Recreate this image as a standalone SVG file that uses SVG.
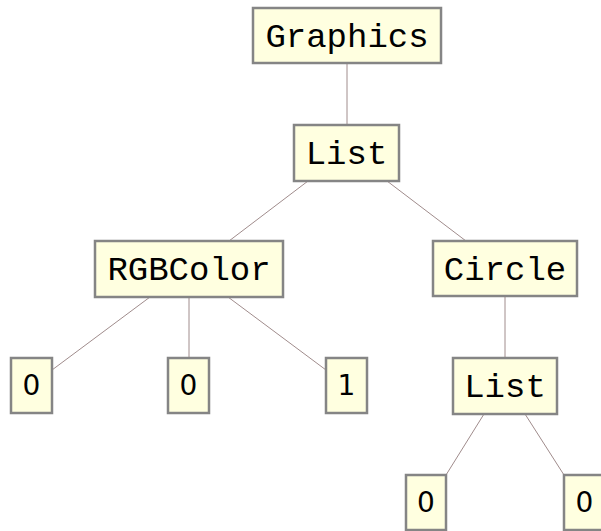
<svg xmlns="http://www.w3.org/2000/svg" width="601" height="531" viewBox="0 0 601 531">
<style>
.box{fill:#ffffe0;stroke:#858585;stroke-width:2.5}
.t{font-family:"Courier New","Liberation Mono",monospace;font-size:34px;fill:#000;text-anchor:middle}
.n{font-family:"DejaVu Sans","Liberation Sans",sans-serif;font-size:28px;fill:#000;text-anchor:middle}
.e{stroke:#a08c8c;stroke-width:1;fill:none}
</style>
<rect width="601" height="531" fill="#ffffff"/>
<g id="connectors">
<line class="e" x1="347" y1="63" x2="347" y2="125"/>
<line class="e" x1="308" y1="181" x2="229" y2="241"/>
<line class="e" x1="387" y1="181" x2="466" y2="241"/>
<line class="e" x1="150" y1="297" x2="52" y2="370"/>
<line class="e" x1="189" y1="297" x2="189" y2="358"/>
<line class="e" x1="228" y1="297" x2="326" y2="370"/>
<line class="e" x1="505" y1="296" x2="505" y2="358"/>
<line class="e" x1="484" y1="414" x2="446" y2="475"/>
<line class="e" x1="525" y1="414" x2="564" y2="475"/>
</g>
<g id="n-graphics"><rect class="box" x="253" y="8" width="188" height="55"/><text class="t" x="347" y="47">Graphics</text></g>
<g id="n-list1"><rect class="box" x="294" y="125" width="105" height="56"/><text class="t" x="346.5" y="164">List</text></g>
<g id="n-rgbcolor"><rect class="box" x="95" y="241" width="188" height="56"/><text class="t" x="189" y="280">RGBColor</text></g>
<g id="n-circle"><rect class="box" x="433" y="241" width="144" height="55"/><text class="t" x="505" y="280">Circle</text></g>
<g id="n-r0"><rect class="box" x="11" y="358" width="41" height="55"/><text class="n" x="31.5" y="395">0</text></g>
<g id="n-g0"><rect class="box" x="168" y="358" width="41" height="55"/><text class="n" x="188.5" y="395">0</text></g>
<g id="n-b1"><rect class="box" x="326" y="358" width="41" height="55"/><text class="n" x="346.5" y="395">1</text></g>
<g id="n-list2"><rect class="box" x="453" y="358" width="104" height="56"/><text class="t" x="505" y="397">List</text></g>
<g id="n-x0"><rect class="box" x="406" y="475" width="40" height="55"/><text class="n" x="426" y="512">0</text></g>
<g id="n-y0"><rect class="box" x="564" y="475" width="41" height="55"/><text class="n" x="584.5" y="512">0</text></g>
</svg>
